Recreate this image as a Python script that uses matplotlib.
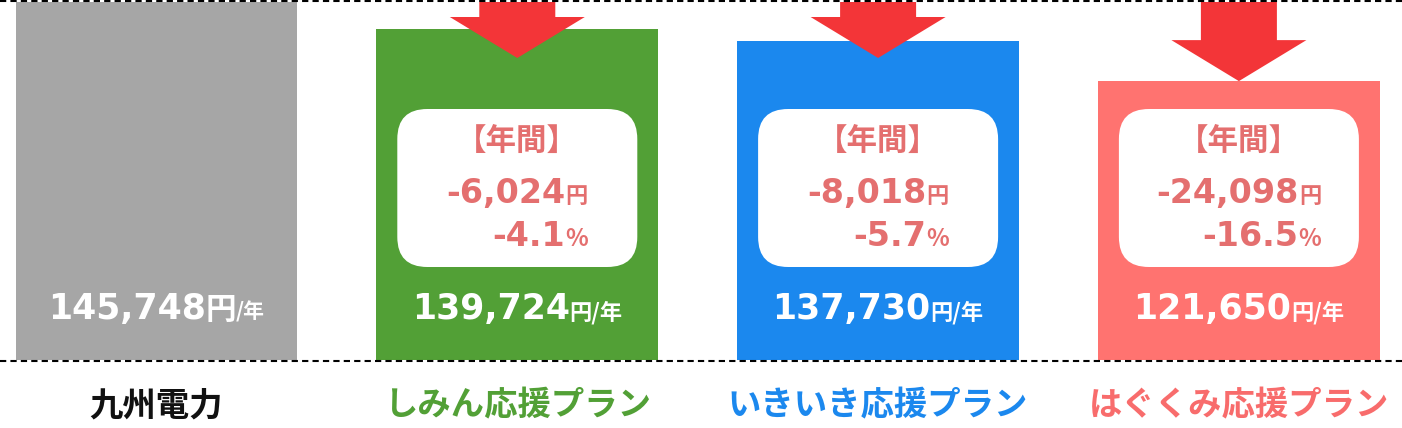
import matplotlib
matplotlib.use('Agg')
import matplotlib.pyplot as plt
from matplotlib.patches import FancyBboxPatch, Polygon
from matplotlib.transforms import IdentityTransform

# ---------------- data ----------------
companies = ['九州電力', 'しみん応援プラン', 'いきいき応援プラン', 'はぐくみ応援プラン']
annual_cost = [145748, 139724, 137730, 121650]          # 円/年
saving_yen = [None, -6024, -8018, -24098]               # 年間 差額
saving_pct = [None, -4.1, -5.7, -16.5]                  # 年間 差率 (%)
bar_height_index = [100.0, 92.5, 89.1, 77.9]            # drawn bar heights (九州電力 = 100)

bar_colors = ['#A6A6A6', '#52A036', '#1B88EE', '#FF7370']
label_colors = ['#111111', '#52A036', '#1B88EE', '#F86C6C']
ARROW = '#F33538'
PINK = '#E46F6F'

NUM = ['DejaVu Sans', 'Noto Sans CJK JP']
JP = ['Noto Sans CJK JP', 'DejaVu Sans']

# ---------------- figure ----------------
W, H = 1402, 428
fig = plt.figure(figsize=(W / 100, H / 100), dpi=100)
ax = fig.add_axes([0, 0, 1, 1])
ax.axis('off')

PXX = 360.8      # px per category
PXU = 3.58       # px per height unit
BASE_PX = 360    # baseline row (from top)
X0 = 156.5       # centre of first bar (px)
ax.set_xlim(-X0 / PXX, (W - X0) / PXX)
ax.set_ylim(-(H - BASE_PX) / PXU, BASE_PX / PXU)


def py(px):
    """row (px from top) -> data y"""
    return (BASE_PX - px) / PXU


x = list(range(len(companies)))
ax.bar(x, bar_height_index, width=282 / PXX, color=bar_colors, zorder=1)

# dashed reference lines
for row in (1, 361):
    ax.axhline(py(row), color='black', lw=1.5, dashes=(3, 2), zorder=6)

# arrows
tip_limit = py(58)
for i in x[1:]:
    tip = min(bar_height_index[i], tip_limit)
    head = tip + 41 / PXU
    top = py(2)
    sw, hw = 38 / PXX, 67.5 / PXX
    pts = [(i - sw, top), (i + sw, top), (i + sw, head), (i + hw, head),
           (i, tip), (i - hw, head), (i - sw, head)]
    ax.add_patch(Polygon(pts, closed=True, facecolor=ARROW, edgecolor='none', zorder=3))

renderer = fig.canvas.get_renderer()


def place(xc, ybase, parts, ha='center'):
    texts = []
    for s, size, fam, wt, col in parts:
        t = fig.text(0, ybase, s, fontsize=size, family=fam, weight=wt, color=col,
                     transform=IdentityTransform(), va='baseline', ha='left', zorder=10)
        texts.append(t)
    widths = [t.get_window_extent(renderer).width for t in texts]
    total = sum(widths)
    start = xc - total / 2 if ha == 'center' else xc - total
    for t, w in zip(texts, widths):
        t.set_x(start)
        start += w
    return start


for i in x:
    cx, _ = ax.transData.transform((i, 0))
    # value label
    num = f'{annual_cost[i]:,}'
    if i == 0:
        parts = [(num, 25, NUM, 'bold', 'white'), ('円', 22, JP, 'bold', 'white'),
                 ('/年', 15, JP, 'bold', 'white')]
    else:
        parts = [(num, 25, NUM, 'bold', 'white'), ('円/年', 16, JP, 'bold', 'white')]
    place(cx, H - 319, parts)

    # category label
    ax.text(i, py(406), companies[i], ha='center', va='center', fontsize=24,
            weight='bold', family=JP, color=label_colors[i], zorder=10)

    if saving_yen[i] is None:
        continue
    # white rounded box
    bw, bh, r = 240, 158, 30
    box = FancyBboxPatch((cx - bw / 2, H - 267), bw, bh,
                         boxstyle=f'round,pad=0,rounding_size={r}',
                         transform=IdentityTransform(), facecolor='white',
                         edgecolor='none', zorder=4)
    fig.add_artist(box)
    fig.text(cx, H - 141, '【年間】', transform=IdentityTransform(), ha='center',
             va='center', fontsize=22, weight='bold', family=JP, color=PINK, zorder=10)
    right = place(cx, H - 203, [(f'{saving_yen[i]:,}', 24, NUM, 'bold', PINK),
                                ('円', 16, JP, 'bold', PINK)])
    place(right, H - 246, [(f'{saving_pct[i]}', 24, NUM, 'bold', PINK),
                           ('%', 17, JP, 'bold', PINK)], ha='right')

fig.savefig('out.png', dpi=100)
